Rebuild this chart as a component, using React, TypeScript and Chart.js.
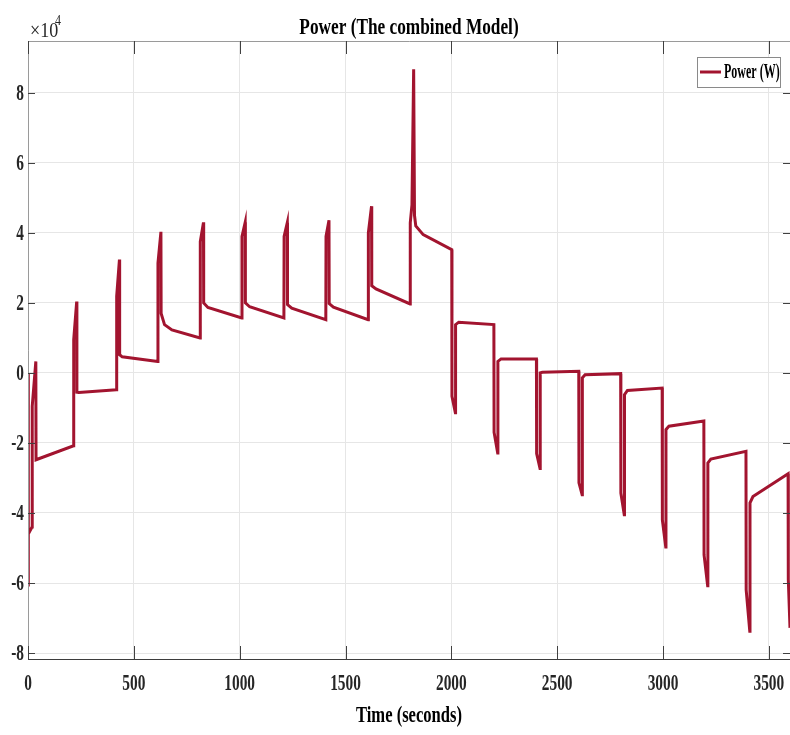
import React, { useEffect, useRef } from "react";
import { Chart, registerables } from "chart.js";

Chart.register(...registerables);

// ---- data (time in seconds, power in W) ----
const timeSec = [
  0, 1, 2, 19, 20, 37, 38,
  215, 216, 230, 231, 240,
  418, 419, 432, 433, 445,
  613, 614, 628, 629, 645, 680,
  813, 814, 829, 830, 850,
  1010, 1011, 1026, 1027, 1047,
  1209, 1210, 1225, 1226, 1246,
  1407, 1408, 1422, 1423, 1443,
  1607, 1608, 1623, 1624, 1644,
  1805, 1806, 1814, 1822, 1826, 1832, 1867,
  2002, 2003, 2019, 2020, 2035,
  2201, 2202, 2219, 2220, 2235,
  2402, 2403, 2419, 2420, 2430,
  2602, 2603, 2618, 2619, 2632,
  2800, 2801, 2817, 2818, 2832,
  2996, 2997, 3013, 3014, 3028,
  3193, 3194, 3211, 3212, 3226,
  3392, 3393, 3410, 3411, 3425,
  3591, 3592, 3600,
];

const powerW = [
  0, -61000, -46000, -44000, -9500, 3300, -24800,
  -20800, 9500, 20400, -5500, -5600,
  -4800, 21900, 32400, 5200, 4600,
  3300, 31400, 40300, 17000, 13800, 12300,
  10000, 37500, 43000, 20000, 18700,
  15700, 39000, 43000, 20000, 18900,
  15700, 39000, 42900, 19500, 18500,
  15200, 39000, 43600, 19800, 18800,
  15200, 40000, 47600, 24900, 24000,
  19700, 42900, 48000, 86700, 45000, 42000, 39500,
  35200, -6700, -11400, 13800, 14500,
  13800, -17000, -22900, 3300, 4000,
  4000, -23000, -27300, 0, 200,
  500, -31400, -34800, -1400, -500,
  -200, -34300, -40500, -6200, -5000,
  -4300, -42000, -49700, -16200, -15200,
  -13700, -52000, -60800, -25700, -24600,
  -22400, -62000, -73800, -37100, -35300,
  -28800, -59000, -72800,
];

const xTickValues = [0, 500, 1000, 1500, 2000, 2500, 3000, 3500];
const yTickValues = [-80000, -60000, -40000, -20000, 0, 20000, 40000, 60000, 80000];

const TITLE = "Power (The combined Model)";
const X_LABEL = "Time (seconds)";
const SERIES_LABEL = "Power (W)";
const LINE_COLOR = "#A2142F";

const SERIF = '"Liberation Serif", "Times New Roman", serif';

function sqText(
  ctx: CanvasRenderingContext2D,
  text: string,
  x: number,
  y: number,
  font: string,
  sx: number,
  align: CanvasTextAlign,
  color: string
) {
  ctx.save();
  ctx.font = font;
  ctx.fillStyle = color;
  ctx.textBaseline = "middle";
  ctx.textAlign = align;
  ctx.translate(x, y);
  ctx.scale(sx, 1);
  ctx.fillText(text, 0, 0);
  ctx.restore();
}

const matlabPlugin = {
  id: "matlabAxes",
  afterDraw(chart: any) {
    const { ctx, chartArea } = chart;
    const { left, right, top, bottom } = chartArea;
    const xs = chart.scales.x;
    const ys = chart.scales.y;
    ctx.save();

    // box
    ctx.lineWidth = 1;
    ctx.strokeStyle = "#9a9a9a";
    ctx.beginPath();
    ctx.moveTo(left + 0.5, bottom);
    ctx.lineTo(left + 0.5, top + 0.5);
    ctx.lineTo(right, top + 0.5);
    ctx.stroke();
    ctx.strokeStyle = "#3c3c3c";
    ctx.beginPath();
    ctx.moveTo(left, bottom + 0.5);
    ctx.lineTo(right, bottom + 0.5);
    ctx.stroke();

    // inner ticks
    ctx.strokeStyle = "#404040";
    ctx.beginPath();
    xs.ticks.forEach((t: any) => {
      const px = Math.round(xs.getPixelForValue(t.value)) + 0.5;
      ctx.moveTo(px, bottom);
      ctx.lineTo(px, bottom - 13);
      ctx.moveTo(px, top);
      ctx.lineTo(px, top + 13);
    });
    ys.ticks.forEach((t: any) => {
      const py = Math.round(ys.getPixelForValue(t.value)) + 0.5;
      ctx.moveTo(left, py);
      ctx.lineTo(left + 7, py);
      ctx.moveTo(right, py);
      ctx.lineTo(right - 7, py);
    });
    ctx.stroke();

    // tick labels
    const tickFont = `bold 24px ${SERIF}`;
    xs.ticks.forEach((t: any) => {
      const px = xs.getPixelForValue(t.value);
      sqText(ctx, String(t.value), px, bottom + 25, tickFont, 0.64, "center", "#262626");
    });
    ys.ticks.forEach((t: any) => {
      const py = ys.getPixelForValue(t.value);
      sqText(ctx, String(t.value / 10000), left - 4, py + 1, tickFont, 0.64, "right", "#262626");
    });

    // exponent
    sqText(ctx, "\u00d710", 30, 31, `22px ${SERIF}`, 0.82, "left", "#262626");
    sqText(ctx, "4", 55, 21, `15px ${SERIF}`, 0.8, "left", "#262626");

    // title & x label
    sqText(ctx, TITLE, (left + right) / 2, 28, `bold 24px ${SERIF}`, 0.72, "center", "#000000");
    sqText(ctx, X_LABEL, (left + right) / 2, 716, `bold 24px ${SERIF}`, 0.69, "center", "#000000");

    // legend
    const lx = 697, ly = 57, lw = 83, lh = 30;
    ctx.fillStyle = "#ffffff";
    ctx.fillRect(lx, ly, lw, lh);
    ctx.strokeStyle = "#8a8a8a";
    ctx.lineWidth = 1;
    ctx.strokeRect(lx + 0.5, ly + 0.5, lw, lh);
    ctx.strokeStyle = LINE_COLOR;
    ctx.lineWidth = 3;
    ctx.beginPath();
    ctx.moveTo(lx + 3, ly + 15);
    ctx.lineTo(lx + 24, ly + 15);
    ctx.stroke();
    sqText(ctx, SERIES_LABEL, lx + 27, ly + 16, `bold 20px ${SERIF}`, 0.6, "left", "#000000");

    ctx.restore();
  },
};

export default function App() {
  const ref = useRef<HTMLCanvasElement | null>(null);

  useEffect(() => {
    document.body.style.margin = "0";
    const canvas = ref.current;
    if (!canvas) return;
    const points = timeSec.map((t, i) => ({ x: t, y: powerW[i] }));
    const chart = new Chart(canvas, {
      type: "line",
      data: {
        datasets: [
          {
            label: SERIES_LABEL,
            data: points,
            borderColor: LINE_COLOR,
            backgroundColor: LINE_COLOR,
            borderWidth: 3,
            pointRadius: 0,
            tension: 0,
            fill: false,
          },
        ],
      },
      options: {
        animation: false,
        responsive: false,
        devicePixelRatio: 1,
        layout: { padding: { top: 41, left: 0, right: 0, bottom: 0 } },
        plugins: {
          legend: { display: false },
          title: { display: false },
          tooltip: { enabled: false },
        },
        scales: {
          x: {
            type: "linear",
            min: 0,
            max: 3600,
            afterBuildTicks: (scale: any) => {
              scale.ticks = xTickValues.map((v) => ({ value: v }));
            },
            ticks: { display: false },
            grid: { color: "#e6e6e6", lineWidth: 1, drawTicks: false },
            border: { display: false },
            afterFit: (scale: any) => {
              scale.height = 76;
            },
          },
          y: {
            type: "linear",
            min: -81700,
            max: 94800,
            afterBuildTicks: (scale: any) => {
              scale.ticks = yTickValues.map((v) => ({ value: v }));
            },
            ticks: { display: false },
            grid: { color: "#e6e6e6", lineWidth: 1, drawTicks: false },
            border: { display: false },
            afterFit: (scale: any) => {
              scale.width = 28;
            },
          },
        },
      },
      plugins: [matlabPlugin],
    });
    return () => chart.destroy();
  }, []);

  return (
    <div style={{ width: 790, height: 735, background: "#ffffff" }}>
      <canvas ref={ref} width={790} height={735} style={{ display: "block" }} />
    </div>
  );
}
